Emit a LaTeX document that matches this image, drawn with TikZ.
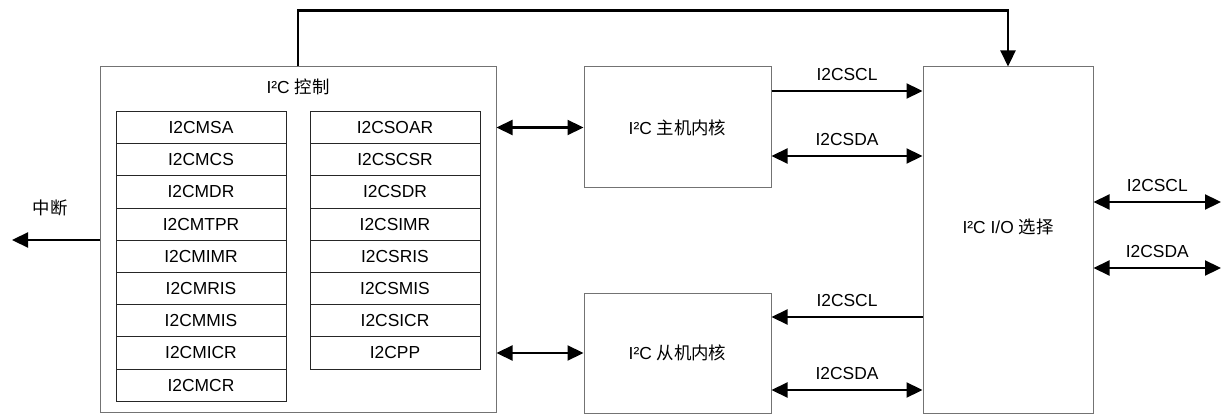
\documentclass[tikz,border=0pt]{standalone}
\usepackage{fontspec}
\setmainfont{Liberation Sans}
\newfontfamily\cjk{Noto Sans CJK SC}
\usetikzlibrary{arrows.meta,calc}
\begin{document}
\begin{tikzpicture}[x=1pt,y=-1pt,
  font=\fontsize{17.4}{20}\selectfont,
  blk/.style={draw=black!55, line width=1pt, fill=white, inner sep=0pt},
  reg/.style={draw=black!85, line width=1pt, minimum width=170pt, minimum height=32.2pt, inner sep=0pt, anchor=north},
  conn/.style={line width=2.2pt, -{Triangle[length=16pt,width=15pt]}},
  bi/.style={line width=2.2pt, {Triangle[length=16pt,width=15pt]}-{Triangle[length=16pt,width=15pt]}},
  plain/.style={line width=2.2pt},
  lbl/.style={midway, above=6pt}]
\useasboundingbox (0,0) rectangle (1223,414);
% boxes
\node[blk, minimum width=396pt, minimum height=345pt] (ctrl) at (298,239.5) {};
\node (ctrlt) at (298,87) {I²C {\cjk 控制}};
\foreach \t [count=\i from 0] in {I2CMSA,I2CMCS,I2CMDR,I2CMTPR,I2CMIMR,I2CMRIS,I2CMMIS,I2CMICR,I2CMCR}
  \node[reg] (m\i) at (201,{111+\i*32.2}) {\t};
\foreach \t [count=\i from 0] in {I2CSOAR,I2CSCSR,I2CSDR,I2CSIMR,I2CSRIS,I2CSMIS,I2CSICR,I2CPP}
  \node[reg] (s\i) at (395,{111+\i*32.2}) {\t};
\node[blk, minimum width=187pt, minimum height=121pt] (mast) at (677.5,127.5) {I²C {\cjk 主机内核}};
\node[blk, minimum width=187pt, minimum height=120pt] (slav) at (677.5,353) {I²C {\cjk 从机内核}};
\node[blk, minimum width=170pt, minimum height=346pt] (io) at (1008,240) {};
\node (iot) at (1008,227) {I²C I/O {\cjk 选择}};
% coordinates
\coordinate (ym1) at (0,91);
\coordinate (ym2) at (0,156);
\coordinate (ys1) at (0,317);
\coordinate (ys2) at (0,390);
\coordinate (intend) at (12,240);
\coordinate (sclout) at (1221,202);
\coordinate (sdaout) at (1221,268);
% connectors
\draw[conn] (ctrl.north) -- ++(0,-56) -| (io.north);
\draw[conn] (ctrl.west |- intend) -- (intend);
\node (intl) at (50,208) {\cjk 中断};
\draw[bi] (ctrl.east |- mast.west) -- (mast.west);
\draw[bi] (ctrl.east |- slav.west) -- (slav.west);
\draw[conn] (mast.east |- ym1) -- (io.west |- ym1) node[lbl] {I2CSCL};
\draw[bi] (mast.east |- ym2) -- (io.west |- ym2) node[lbl] {I2CSDA};
\draw[conn] (io.west |- ys1) -- (slav.east |- ys1) node[lbl] {I2CSCL};
\draw[bi] (slav.east |- ys2) -- (io.west |- ys2) node[lbl] {I2CSDA};
\draw[bi] (io.east |- sclout) -- (sclout) node[lbl] {I2CSCL};
\draw[bi] (io.east |- sdaout) -- (sdaout) node[lbl] {I2CSDA};
\end{tikzpicture}
\end{document}
